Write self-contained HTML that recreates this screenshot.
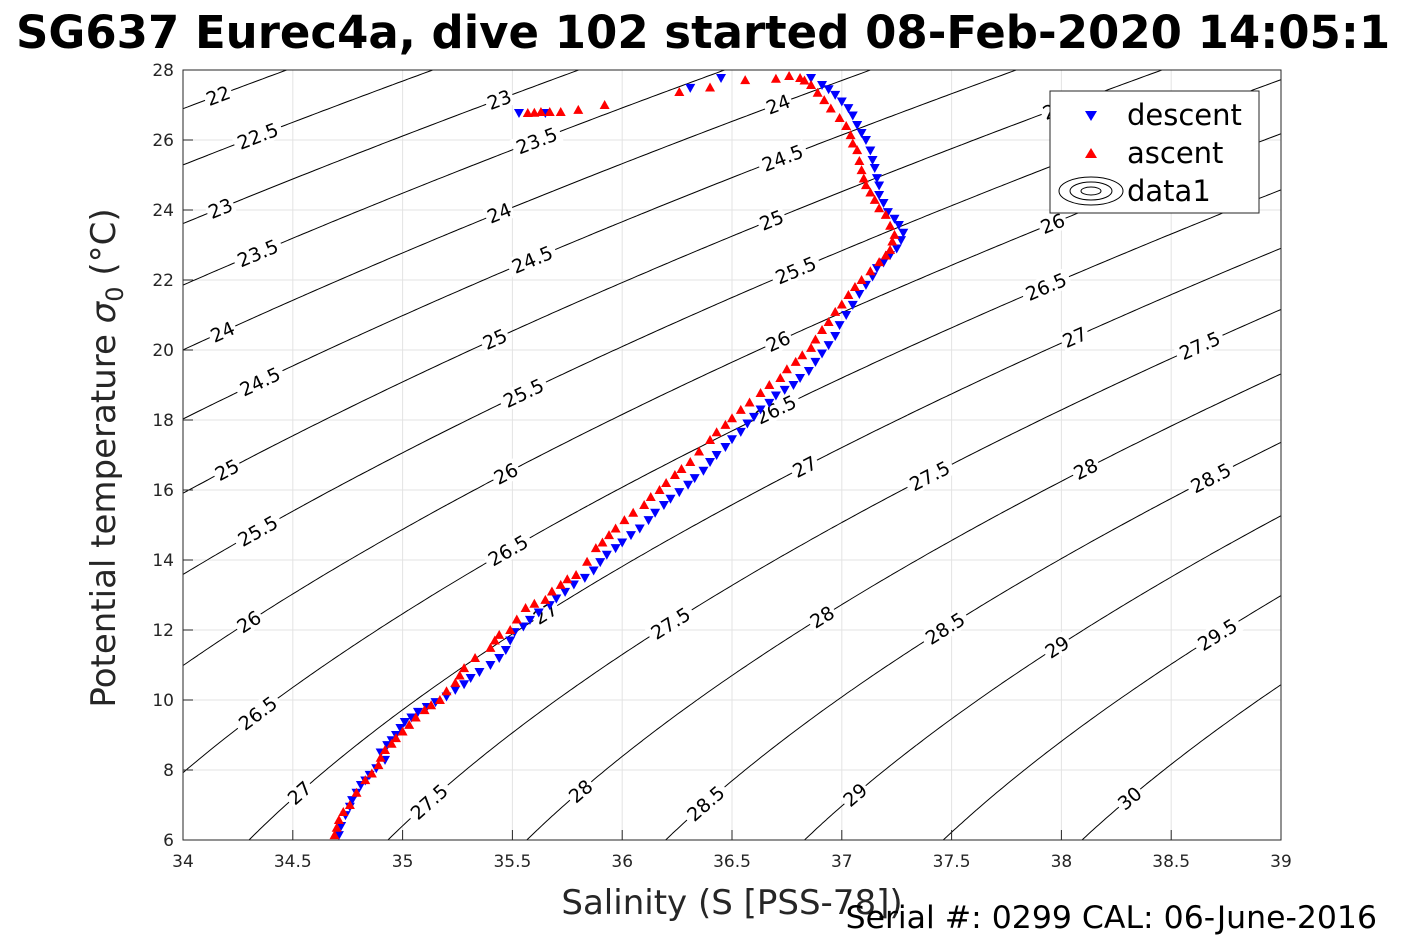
<!DOCTYPE html>
<html><head><meta charset="utf-8">
<style>
html,body{margin:0;padding:0;background:#fff;width:1417px;height:945px;overflow:hidden;font-family:"Liberation Sans","DejaVu Sans",sans-serif}
svg{position:absolute;left:0;top:0}
</style></head>
<body>
<svg id="chart" width="1417" height="945" viewBox="0 0 1417 945" xmlns="http://www.w3.org/2000/svg">
<text x="16" y="48" font-size="45" font-weight="bold" fill="#000" font-family="DejaVu Sans, Liberation Sans, sans-serif">SG637 Eurec4a, dive 102 started 08-Feb-2020 14:05:1</text>
<g id="grid"></g>
<g id="contours"></g>
<g id="clabels"></g>
<g id="series"></g>
<rect x="183" y="70" width="1098" height="770" fill="none" stroke="#262626" stroke-width="1"/>
<g id="ticks"></g>
<text x="732" y="914" font-size="34" fill="#262626" text-anchor="middle" font-family="DejaVu Sans, Liberation Sans, sans-serif">Salinity (S [PSS-78])</text>
<text transform="translate(115,458) rotate(-90)" font-size="34" fill="#262626" text-anchor="middle" font-family="DejaVu Sans, Liberation Sans, sans-serif">Potential temperature <tspan font-style="italic">σ</tspan><tspan font-size="24" dy="8">0</tspan><tspan dy="-8"> (°C)</tspan></text>
<text x="1377" y="928" font-size="31.5" fill="#000" text-anchor="end" font-family="DejaVu Sans, Liberation Sans, sans-serif">Serial #: 0299 CAL: 06-June-2016</text>
<g>
<rect x="1050" y="91" width="209" height="122" fill="#fff" stroke="#262626" stroke-width="1"/>
<polygon points="1085,111 1097,111 1091,121" fill="#0000ff"/>
<text x="1127" y="125" font-size="29" fill="#000" font-family="DejaVu Sans, Liberation Sans, sans-serif">descent</text>
<polygon points="1085,158 1097,158 1091,148" fill="#ff0000"/>
<text x="1127" y="163" font-size="29" fill="#000" font-family="DejaVu Sans, Liberation Sans, sans-serif">ascent</text>
<g fill="none" stroke="#000" stroke-width="1">
<ellipse cx="1091" cy="191" rx="32" ry="14"/><ellipse cx="1091" cy="191" rx="21" ry="9"/><ellipse cx="1091" cy="191" rx="10" ry="4"/></g>
<text x="1127" y="201" font-size="29" fill="#000" font-family="DejaVu Sans, Liberation Sans, sans-serif">data1</text>
</g>
</svg>
<script>
const xTicks=[34,34.5,35,35.5,36,36.5,37,37.5,38,38.5,39];
const yTicks=[6,8,10,12,14,16,18,20,22,24,26,28];
const contourLevels=[22,22.5,23,23.5,24,24.5,25,25.5,26,26.5,27,27.5,28,28.5,29,29.5,30];
const labelLevels=[22,22.5,23,23.5,24,24.5,25,25.5,26,26.5,27,23,23.5,24,24.5,25,25.5,26,26.5,27,27.5,24,24.5,25,25.5,26,26.5,27,27.5,28,25,26,26.5,27,27.5,28,28.5,29,27.5,28,28.5,29,30,28.5,29.5];
const labelSal=[34.16,34.34,34.17,34.34,34.18,34.35,34.2,34.34,34.3,34.34,34.53,35.44,35.61,35.44,35.59,35.42,35.55,35.47,35.48,35.65,35.12,36.71,36.73,36.68,36.79,36.71,36.7,36.83,36.22,35.81,37.97,37.96,37.93,38.06,37.4,36.91,36.38,37.06,38.63,38.11,37.47,37.98,38.31,38.68,38.71];
const descentS=[34.71,34.74,34.77,34.81,34.85,34.92,34.93,34.97,35.01,35.07,35.15,35.24,35.31,35.40,35.47,35.51,35.58,35.67,35.74,35.83,35.90,35.97,36.04,36.12,36.19,36.26,36.33,36.40,36.47,36.54,36.60,36.67,36.74,36.81,36.88,36.94,36.99,37.05,37.11,37.16,37.22,37.27,37.26,37.21,37.17,37.16,37.14,37.11,37.07,37.03,36.97,36.91,36.86,36.45,36.31,35.65,35.53,
34.72,34.76,34.79,34.83,34.88,34.90,34.95,34.99,35.04,35.11,35.20,35.28,35.35,35.44,35.49,35.55,35.62,35.70,35.78,35.87,35.93,36.00,36.08,36.15,36.22,36.30,36.37,36.43,36.50,36.57,36.63,36.70,36.78,36.85,36.91,36.97,37.02,37.08,37.14,37.19,37.25,37.28,37.24,37.19,37.17,37.15,37.13,37.09,37.05,37.00,36.94];
const descentT=[6.14,6.71,7.14,7.57,7.86,8.29,8.71,9.0,9.37,9.66,9.94,10.29,10.63,11.0,11.43,11.94,12.29,12.71,13.09,13.49,13.94,14.34,14.71,15.14,15.57,15.94,16.34,16.8,17.23,17.66,18.09,18.49,18.86,19.2,19.66,20.14,20.71,21.29,21.86,22.34,22.71,23.14,23.57,23.94,24.43,24.91,25.43,26.0,26.43,26.91,27.29,27.57,27.77,27.77,27.49,26.77,26.77,
6.4,6.95,7.35,7.7,8.05,8.5,8.85,9.2,9.5,9.8,10.1,10.45,10.8,11.2,11.7,12.1,12.5,12.9,13.3,13.7,14.15,14.5,14.9,15.35,15.75,16.15,16.55,17.0,17.45,17.9,18.3,18.7,19.0,19.4,19.9,20.4,21.0,21.6,22.1,22.5,22.9,23.35,23.75,24.2,24.7,25.2,25.7,26.2,26.7,27.1,27.45];
const ascentS=[34.69,34.71,34.76,34.83,34.89,34.92,34.97,35.03,35.10,35.17,35.24,35.28,35.40,35.44,35.49,35.56,35.65,35.72,35.79,35.88,35.94,36.01,36.10,36.17,36.24,36.31,36.40,36.47,36.54,36.63,36.72,36.79,36.86,36.91,36.97,37.03,37.09,37.17,37.22,37.24,37.20,37.15,37.11,37.09,37.07,37.04,36.99,36.92,36.86,36.81,36.76,36.56,36.26,35.92,35.80,35.72,35.63,35.57,
34.70,34.73,34.79,34.86,34.90,34.95,35.00,35.06,35.13,35.20,35.26,35.33,35.42,35.52,35.60,35.68,35.75,35.84,35.91,35.97,36.05,36.13,36.20,36.27,36.35,36.43,36.50,36.58,36.67,36.75,36.82,36.88,36.94,37.00,37.06,37.13,37.20,37.23,37.22,37.17,37.13,37.10,37.08,37.05,37.02,36.95,36.89,36.83,36.70,36.40,35.67,35.60];
const ascentT=[6.14,6.57,7.0,7.71,8.14,8.57,8.91,9.29,9.71,10.0,10.49,10.91,11.49,11.86,12.0,12.63,12.86,13.29,13.57,14.34,14.71,15.14,15.57,16.0,16.43,16.8,17.43,17.86,18.29,18.77,19.2,19.66,20.06,20.57,21.09,21.57,22.0,22.51,22.86,23.29,23.86,24.29,24.71,25.14,25.71,26.14,26.63,27.14,27.57,27.77,27.83,27.71,27.37,27.0,26.86,26.80,26.80,26.77,
6.35,6.8,7.35,7.9,8.35,8.75,9.1,9.5,9.85,10.25,10.7,11.2,11.7,12.3,12.75,13.1,13.45,13.95,14.5,14.9,15.35,15.8,16.2,16.6,17.1,17.65,18.05,18.5,19.0,19.45,19.85,20.3,20.8,21.3,21.8,22.25,22.7,23.1,23.55,24.05,24.5,24.9,25.4,25.9,26.4,26.9,27.35,27.7,27.75,27.5,26.8,26.78];

const NS="http://www.w3.org/2000/svg";
const X0=183,X1=1281,Y0=840,Y1=70,SMIN=34,SMAX=39,TMIN=6,TMAX=28;
function xs(s){return X0+(s-SMIN)/(SMAX-SMIN)*(X1-X0);}
function ys(t){return Y0-(t-TMIN)/(TMAX-TMIN)*(Y0-Y1);}
function sigma0(S,T){
 const rw=999.842594+6.793952e-2*T-9.095290e-3*T*T+1.001685e-4*T**3-1.120083e-6*T**4+6.536332e-9*T**5;
 const A=0.824493-4.0899e-3*T+7.6438e-5*T*T-8.2467e-7*T**3+5.3875e-9*T**4;
 const B=-5.72466e-3+1.0227e-4*T-1.6546e-6*T*T;
 return rw+A*S+B*Math.pow(S,1.5)+4.8314e-4*S*S-1000;
}
function mk(tag,attrs,parent){const e=document.createElementNS(NS,tag);for(const k in attrs)e.setAttribute(k,attrs[k]);parent.appendChild(e);return e;}
const grid=document.getElementById('grid'),ticks=document.getElementById('ticks');
xTicks.forEach(v=>{
 const x=xs(v);
 const l=mk('line',{x1:x,x2:x,y1:Y1,y2:Y0,stroke:'#e3e3e3','stroke-width':1},grid);
 
 
 mk('line',{x1:x,x2:x,y1:Y0,y2:Y0-10,stroke:'#262626'},ticks);
 const t=mk('text',{x:x,y:Y0+27,'font-size':17,fill:'#262626','text-anchor':'middle','font-family':'DejaVu Sans, Liberation Sans, sans-serif'},ticks);
 t.textContent=v;
 
 
});
yTicks.forEach(v=>{
 const y=ys(v);
 const l=mk('line',{x1:X0,x2:X1,y1:y,y2:y,stroke:'#e3e3e3','stroke-width':1},grid);
 
 
 mk('line',{x1:X0,x2:X0+10,y1:y,y2:y,stroke:'#262626'},ticks);
 const t=mk('text',{x:X0-9,y:y+6,'font-size':17,fill:'#262626','text-anchor':'end','font-family':'DejaVu Sans, Liberation Sans, sans-serif'},ticks);
 t.textContent=v;
 
 
});
const cg=document.getElementById('contours');
const NX=220,NY=154;
const F=[];
for(let j=0;j<=NY;j++){F[j]=[];for(let i=0;i<=NX;i++){const S=SMIN+(SMAX-SMIN)*i/NX,T=TMIN+(TMAX-TMIN)*j/NY;F[j][i]=sigma0(S,T);}}
function px(i){return X0+(X1-X0)*i/NX;} function py(j){return Y0-(Y0-Y1)*j/NY;}
contourLevels.forEach(L=>{
 let d='';
 for(let j=0;j<NY;j++)for(let i=0;i<NX;i++){
  const c=[[i,j],[i+1,j],[i+1,j+1],[i,j+1]];
  const v=c.map(p=>F[p[1]][p[0]]);
  const pts=[];
  for(let k=0;k<4;k++){const a=v[k],b=v[(k+1)%4];if((a<L)!==(b<L)){const f=(L-a)/(b-a);const p=c[k],q=c[(k+1)%4];pts.push([px(p[0]+f*(q[0]-p[0])),py(p[1]+f*(q[1]-p[1]))]);}}
  for(let k=0;k+1<pts.length;k+=2)d+='M'+pts[k][0].toFixed(1)+' '+pts[k][1].toFixed(1)+'L'+pts[k+1][0].toFixed(1)+' '+pts[k+1][1].toFixed(1);
 }
 const p=mk('path',{d:d,stroke:'#000','stroke-width':1,fill:'none'},cg);
 
 
});
const lg=document.getElementById('clabels');
function solveT(L,S){let lo=-2,hi=40;for(let k=0;k<50;k++){const m=(lo+hi)/2;if(sigma0(S,m)>L)lo=m;else hi=m;}return (lo+hi)/2;}
labelLevels.forEach((L,k)=>{
 const S=labelSal[k],T=solveT(L,S);
 if(T<TMIN||T>TMAX)return;
 const T2=solveT(L,S+0.02);
 const ang=Math.atan2(ys(T2)-ys(T),xs(S+0.02)-xs(S))*180/Math.PI;
 const g=mk('g',{transform:'translate('+xs(S).toFixed(1)+','+ys(T).toFixed(1)+') rotate('+ang.toFixed(1)+')'},lg);
 const txt=String(L);const w=txt.length*11+6;
 mk('rect',{x:-w/2,y:-10,width:w,height:20,fill:'#fff'},g);
 const t=mk('text',{x:0,y:7,'font-size':19,'text-anchor':'middle',fill:'#000','font-family':'DejaVu Sans, Liberation Sans, sans-serif'},g);
 t.textContent=txt;
 
 
});
const sg=document.getElementById('series');
descentS.forEach((s,i)=>{
 const x=xs(s),y=ys(descentT[i]);
 const p=mk('polygon',{points:(x-5)+','+(y-4)+' '+(x+5)+','+(y-4)+' '+x+','+(y+5),fill:'#0000ff'},sg);
 
 
});
ascentS.forEach((s,i)=>{
 const x=xs(s),y=ys(ascentT[i]);
 const p=mk('polygon',{points:(x-5)+','+(y+4)+' '+(x+5)+','+(y+4)+' '+x+','+(y-5),fill:'#ff0000'},sg);
 
 
});
</script>
</body></html>
